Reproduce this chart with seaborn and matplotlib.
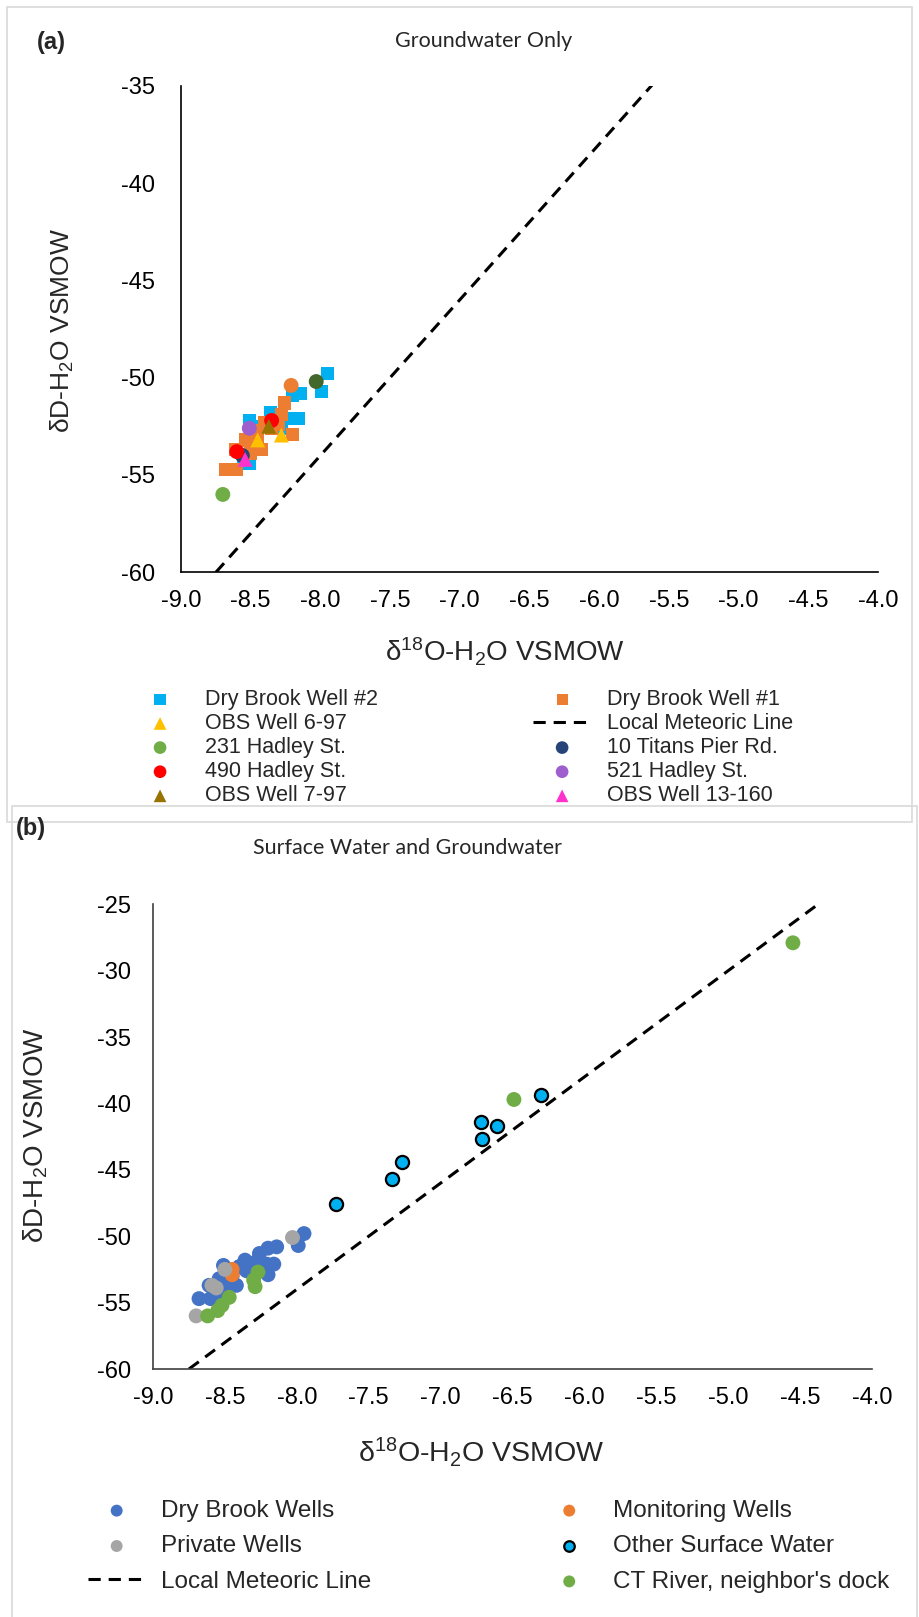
import numpy as np
import pandas as pd
import matplotlib
matplotlib.use("Agg")
import matplotlib.pyplot as plt
import seaborn as sns
from matplotlib.patches import Rectangle

sns.set_theme(style="white")
plt.rcParams["font.family"] = ["Liberation Sans", "DejaVu Sans"]
plt.rcParams["mathtext.fontset"] = "custom"
plt.rcParams["mathtext.rm"] = "Liberation Sans"
plt.rcParams["mathtext.it"] = "Liberation Sans:italic"
plt.rcParams["mathtext.bf"] = "Liberation Sans:bold"
plt.rcParams["axes.unicode_minus"] = False

# ---------------- Panel (a): Groundwater only ----------------
dbw2_x = [-7.95, -7.99, -8.14, -8.20, -8.16, -8.21, -8.36, -8.51, -8.48, -8.51, -8.55, -8.45, -8.28, -8.40]
dbw2_y = [-49.8, -50.7, -50.8, -50.9, -52.1, -52.1, -51.8, -52.2, -52.5, -54.4, -54.2, -53.5, -52.6, -52.3]
dbw1_x = [-8.26, -8.28, -8.20, -8.30, -8.42, -8.47, -8.54, -8.61, -8.68, -8.60, -8.40, -8.35, -8.50, -8.45]
dbw1_y = [-51.3, -51.9, -52.9, -52.4, -53.7, -52.7, -53.2, -53.7, -54.7, -54.7, -52.3, -52.6, -53.9, -53.0]
obs697_x = [-8.45, -8.28]
obs697_y = [-53.2, -52.95]
h231_x = [-8.70]
h231_y = [-56.0]
titans_x = [-8.56]
titans_y = [-54.0]
h490_x = [-8.60, -8.35]
h490_y = [-53.8, -52.2]
h521_x = [-8.51]
h521_y = [-52.6]
obs797_x = [-8.37]
obs797_y = [-52.5]
obs13_x = [-8.54]
obs13_y = [-54.2]
extra_orange_x = [-8.21]
extra_orange_y = [-50.4]
extra_green_x = [-8.03]
extra_green_y = [-50.2]

# Local meteoric line end points
lml_x = [-8.75, -4.375]
lml_y = [-60.0, -25.0]

# ---------------- Panel (b): Surface water and groundwater ----------------
priv_x = [-8.03, -8.50, -8.59, -8.56, -8.70]
priv_y = [-50.1, -52.5, -53.7, -53.9, -56.0]
mon_x = [-8.45, -8.45]
mon_y = [-52.5, -52.9]
osw_x = [-7.73, -7.34, -7.27, -6.71, -6.72, -6.61, -6.30]
osw_y = [-47.6, -45.7, -44.4, -42.7, -41.4, -41.7, -39.4]
ctr_x = [-8.27, -8.30, -8.29, -8.47, -8.52, -8.55, -8.62, -6.49, -4.55]
ctr_y = [-52.7, -53.3, -53.8, -54.6, -55.2, -55.6, -56.0, -39.7, -27.9]

xticks = [-9.0, -8.5, -8.0, -7.5, -7.0, -6.5, -6.0, -5.5, -5.0, -4.5, -4.0]
yticks_a = [-60, -55, -50, -45, -40, -35]
yticks_b = [-60, -55, -50, -45, -40, -35, -30, -25]

W, H = 920, 1617
fig = plt.figure(figsize=(W / 100, H / 100), dpi=100)


def rect(l, t, r, b):
    return [l / W, 1 - b / H, (r - l) / W, (b - t) / H]


# panel frames
fig.patches.append(Rectangle((7 / W, 1 - 822 / H), 905 / W, 815 / H, transform=fig.transFigure,
                             fill=False, edgecolor="#D9D9D9", lw=1.2, zorder=0))
fig.patches.append(Rectangle((12 / W, 1 - 1640 / H), 905 / W, 834 / H, transform=fig.transFigure,
                             fill=False, edgecolor="#D9D9D9", lw=1.2, zorder=0))

A_L, A_T, A_R, A_B = 181, 85.7, 878, 572.3
B_L, B_T, B_R, B_B = 153, 904.3, 872, 1369
axA = fig.add_axes(rect(A_L, A_T, A_R, A_B))
axB = fig.add_axes(rect(B_L, B_T, B_R, B_B))


def scat(ax, x, y, marker, color, s, label, ec="none", lw=0.0):
    sns.scatterplot(x=x, y=y, ax=ax, marker=marker, color=color, s=s,
                    edgecolor=ec, linewidth=lw, label=label, legend=False, zorder=3)


# ---- panel (a)
scat(axA, dbw2_x, dbw2_y, "s", "#00B0F0", 90, "Dry Brook Well #2")
scat(axA, dbw1_x, dbw1_y, "s", "#ED7D31", 90, "Dry Brook Well #1")
scat(axA, obs697_x, obs697_y, "^", "#FFC000", 115, "OBS Well 6-97")
sns.lineplot(x=lml_x, y=lml_y, ax=axA, color="black", lw=2.2, label="Local Meteoric Line",
             legend=False, zorder=2)
axA.lines[-1].set_linestyle((0, (4, 2.6)))
scat(axA, h231_x, h231_y, "o", "#70AD47", 115, "231 Hadley St.")
scat(axA, titans_x, titans_y, "o", "#264478", 115, "10 Titans Pier Rd.")
scat(axA, h490_x, h490_y, "o", "#FF0000", 115, "490 Hadley St.")
scat(axA, h521_x, h521_y, "o", "#9E5ECE", 115, "521 Hadley St.")
scat(axA, obs797_x, obs797_y, "^", "#997300", 115, "OBS Well 7-97")
scat(axA, obs13_x, obs13_y, "^", "#FF33CC", 115, "OBS Well 13-160")
scat(axA, extra_orange_x, extra_orange_y, "o", "#ED7D31", 115, "_nolegend_")
scat(axA, extra_green_x, extra_green_y, "o", "#43682B", 115, "_nolegend_")

# ---- panel (b)
dbw_x = dbw2_x + dbw1_x
dbw_y = dbw2_y + dbw1_y
scat(axB, dbw_x, dbw_y, "o", "#4472C4", 115, "Dry Brook Wells")
scat(axB, mon_x, mon_y, "o", "#ED7D31", 115, "Monitoring Wells")
scat(axB, priv_x, priv_y, "o", "#A5A5A5", 115, "Private Wells")
sns.lineplot(x=lml_x, y=lml_y, ax=axB, color="black", lw=2.2, label="Local Meteoric Line",
             legend=False, zorder=2)
axB.lines[-1].set_linestyle((0, (4, 2.6)))
scat(axB, osw_x, osw_y, "o", "#00B0F0", 90, "Other Surface Water", ec="black", lw=1.6)
scat(axB, ctr_x, ctr_y, "o", "#70AD47", 115, "CT River, neighbor's dock")

for ax, yt, spc, ypad in ((axA, yticks_a, "black", 18.5), (axB, yticks_b, "#404040", 16)):
    ax.set_xlim(-9.0, -4.0)
    ax.set_ylim(yt[0], yt[-1])
    ax.set_xticks(xticks)
    ax.set_xticklabels([f"{v:.1f}" for v in xticks])
    ax.set_yticks(yt)
    ax.set_yticklabels([str(v) for v in yt])
    for side in ("top", "right"):
        ax.spines[side].set_visible(False)
    for side in ("left", "bottom"):
        ax.spines[side].set_color(spc)
        ax.spines[side].set_linewidth(1.2)
    ax.tick_params(axis="both", direction="in", length=5.5, width=1.0, color=spc,
                   labelsize=17, labelcolor="black")
    ax.tick_params(axis="x", pad=13)
    ax.tick_params(axis="y", pad=ypad)
    ax.set_facecolor("white")
    ax.patch.set_alpha(0)

axA.set_xlabel(r"δ$^{18}$O-H$_2$O VSMOW", fontsize=20, va="center")
axA.set_ylabel(r"δD-H$_2$O VSMOW", fontsize=19, va="center", ha="center")
axB.set_xlabel(r"δ$^{18}$O-H$_2$O VSMOW", fontsize=20.5, va="center")
axB.set_ylabel(r"δD-H$_2$O VSMOW", fontsize=20, va="center", ha="center")

axA.xaxis.set_label_coords((505 - A_L) / (A_R - A_L), (A_B - 652) / (A_B - A_T))
axA.yaxis.set_label_coords((62 - A_L) / (A_R - A_L), (A_B - 330) / (A_B - A_T))
axB.xaxis.set_label_coords((481 - B_L) / (B_R - B_L), (B_B - 1452) / (B_B - B_T))
axB.yaxis.set_label_coords((36 - B_L) / (B_R - B_L), (B_B - 1135) / (B_B - B_T))

# titles and panel letters
fig.text(484 / W, 1 - 41 / H, "Groundwater Only", fontsize=15.5, family=["Lato", "DejaVu Sans"],
         ha="center", va="center")
fig.text(408 / W, 1 - 848 / H, "Surface Water and Groundwater", fontsize=15.5,
         family=["Lato", "DejaVu Sans"], ha="center", va="center")
fig.text(51 / W, 1 - 42 / H, "(a)", fontsize=17, fontweight="bold", ha="center", va="center")
fig.text(31 / W, 1 - 828 / H, "(b)", fontsize=17, fontweight="bold", ha="center", va="center")

# legends (column-major order to reproduce the row-wise layout)
hA, lA = axA.get_legend_handles_labels()
dA = dict(zip(lA, hA))
orderA = ["Dry Brook Well #2", "OBS Well 6-97", "231 Hadley St.", "490 Hadley St.", "OBS Well 7-97",
          "Dry Brook Well #1", "Local Meteoric Line", "10 Titans Pier Rd.", "521 Hadley St.", "OBS Well 13-160"]
fig.legend([dA[k] for k in orderA], orderA, ncol=2, loc="upper left",
           bbox_to_anchor=(131 / W, 1 - 689 / H), frameon=False, fontsize=15.5,
           borderpad=0, borderaxespad=0, handlelength=2.7, handletextpad=0.74,
           columnspacing=7.2, labelspacing=0.145, markerscale=0.85)

hB, lB = axB.get_legend_handles_labels()
dB = dict(zip(lB, hB))
orderB = ["Dry Brook Wells", "Private Wells", "Local Meteoric Line",
          "Monitoring Wells", "Other Surface Water", "CT River, neighbor's dock"]
fig.legend([dB[k] for k in orderB], orderB, ncol=2, loc="upper left",
           bbox_to_anchor=(87.5 / W, 1 - 1500 / H), frameon=False, fontsize=17.5,
           borderpad=0, borderaxespad=0, handlelength=2.4, handletextpad=0.62,
           columnspacing=6.95, labelspacing=0.55, markerscale=0.8)

fig.savefig("out.png", dpi=100, facecolor="white")
